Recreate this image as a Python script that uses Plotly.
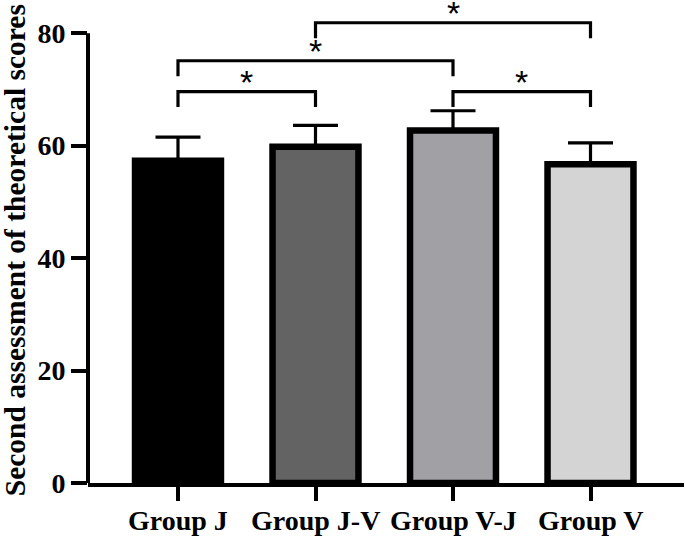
import plotly.graph_objects as go

groups = ["Group J", "Group J-V", "Group V-J", "Group V"]
means = [57.3, 59.8, 62.7, 56.7]
sd_upper = [4.2, 3.8, 3.5, 3.8]
bar_colors = ["#000000", "#636363", "#a1a0a5", "#d4d4d4"]

# significance comparisons (indices into groups)
comp_a = [0, 0, 1, 2]
comp_b = [1, 2, 3, 3]
comp_level = [69.6, 75.1, 81.85, 69.6]
comp_label = ["*", "*", "*", "*"]
leg_len = 2.75
star_gap = 2.3

yticks = [0, 20, 40, 60, 80]
y_axis_top = 80

FONT = "Times New Roman, Liberation Serif, serif"

fig = go.Figure()
fig.add_trace(go.Bar(
    x=list(range(len(groups))),
    y=means,
    width=0.625,
    marker=dict(color=bar_colors, line=dict(color="black", width=6.5)),
    error_y=dict(type="data", array=sd_upper, arrayminus=[0] * len(groups),
                 symmetric=False, color="black", thickness=3.2, width=22.5),
    showlegend=False,
    hoverinfo="skip",
))

shapes = []
annotations = []
for a, b, lvl, lab in zip(comp_a, comp_b, comp_level, comp_label):
    shapes.append(dict(
        type="path",
        path=f"M {a} {lvl - leg_len} L {a} {lvl} L {b} {lvl} L {b} {lvl - leg_len}",
        xref="x", yref="y", line=dict(color="black", width=3.2),
    ))
    annotations.append(dict(
        x=(a + b) / 2, y=lvl + star_gap, xref="x", yref="y",
        text=lab, showarrow=False, yanchor="middle", xanchor="center",
        font=dict(family="Liberation Sans, Arial", size=34, color="black"),
        yshift=-3,
    ))

# x category labels
for i, g in enumerate(groups):
    annotations.append(dict(
        x=i, y=0, xref="x", yref="y", text=g, showarrow=False,
        xanchor="center", yanchor="top", yshift=-20,
        font=dict(family=FONT, size=28, color="black", weight="bold"),
    ))

# y axis line only up to 80
shapes.append(dict(type="line", xref="paper", yref="y", x0=0, x1=0,
                   y0=0, y1=y_axis_top, line=dict(color="black", width=4)))

annotations.append(dict(
    text="Second assessment of theoretical scores",
    xref="paper", yref="y", x=-73 / 596, y=41.4,
    textangle=-90, showarrow=False, xanchor="center", yanchor="middle",
    font=dict(family=FONT, size=29.5, color="black", weight="bold"),
))

fig.update_layout(
    width=685, height=538,
    margin=dict(l=88, r=1, t=0, b=55),
    plot_bgcolor="white", paper_bgcolor="white",
    shapes=shapes, annotations=annotations,
    hovermode=False,
    xaxis=dict(
        range=[-0.6545, 3.68], automargin=False,
        tickmode="array", tickvals=list(range(len(groups))), showticklabels=False,
        showline=True, linecolor="black", linewidth=4,
        ticks="outside", ticklen=14, tickwidth=4, tickcolor="black",
        showgrid=False, zeroline=False,
    ),
    yaxis=dict(
        range=[0, 85.9], automargin=False,
        tickmode="array", tickvals=yticks,
        showline=False,
        ticks="outside", ticklen=16, tickwidth=4, tickcolor="black",
        tickfont=dict(family=FONT, size=28, color="black", weight="bold"),
        showgrid=False, zeroline=False,
    ),
)

fig.write_html("out.html", config={"displayModeBar": False},
               post_script="document.body.style.margin='0';")
